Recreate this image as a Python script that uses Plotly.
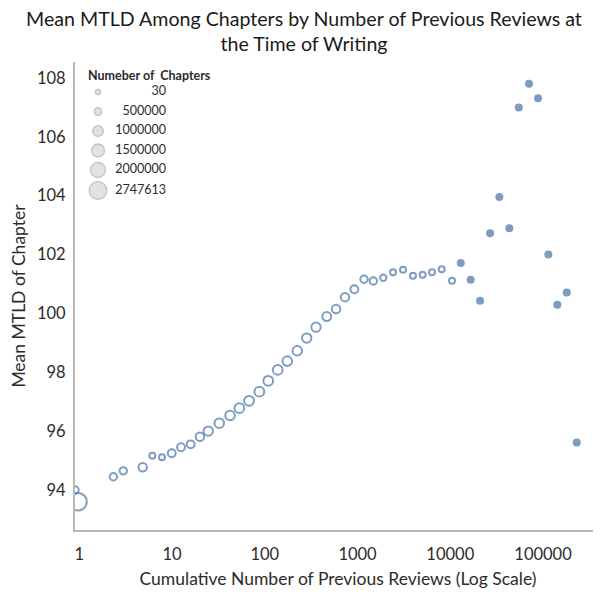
import plotly.graph_objects as go

# ---- data ----
reviews = [0.9, 0.97, 2.33, 2.98, 4.83, 6.14, 7.80, 9.93, 12.5, 15.9, 20.0, 24.6,
           32.3, 42.2, 53.2, 67.7, 87.4, 109, 138, 175, 224, 283, 357, 466, 587,
           733, 924, 1175, 1480, 1897, 2414, 3096, 3966, 5043, 6353, 8090, 10450,
           12970, 16600, 20940, 26850, 33810, 43330, 54740, 70630, 88310, 114100,
           142600, 180300, 230800]
mean_mtld = [94.0, 93.6, 94.45, 94.65, 94.77, 95.16, 95.11, 95.25, 95.45, 95.55, 95.81, 96.0,
             96.27, 96.53, 96.78, 97.03, 97.34, 97.71, 98.08, 98.38, 98.73, 99.16, 99.53,
             99.89, 100.15, 100.55, 100.82, 101.16, 101.10, 101.21, 101.40, 101.48, 101.28,
             101.31, 101.40, 101.50, 101.11, 101.71, 101.14, 100.43, 102.72, 103.95, 102.89,
             106.99, 107.80, 107.31, 102.0, 100.29, 100.71, 95.61]
chapters = [493000, 2747613, 493000, 493000, 639000, 309000, 309000, 564000, 564000, 564000,
            639000, 790000, 812000, 830000, 845000, 858000, 861000, 850000, 842000, 826000,
            805000, 790000, 780000, 720000, 639000, 639000, 564000, 493000, 493000, 365000,
            309000, 309000, 168000, 168000, 130000, 97000, 97000, 62000, 48000, 35000,
            26000, 18000, 12000, 7500, 4200, 2100, 900, 350, 120, 30]

legend_counts = [30, 500000, 1000000, 1500000, 2000000, 2747613]
legend_labels = ["30", "500000", "1000000", "1500000", "2000000", "2747613"]
legend_title = "Numeber of  Chapters"

x_ticks = [1, 10, 100, 1000, 10000, 100000]
x_tick_labels = ["1", "10", "100", "1000", "10000", "100000"]
y_ticks = [94, 96, 98, 100, 102, 104, 106, 108]

title_text = "Mean MTLD Among Chapters by Number of Previous Reviews at<br>the Time of Writing"
x_title = "Cumulative Number of Previous Reviews (Log Scale)"
y_title = "Mean MTLD of Chapter"

# ---- styling ----
FONT = "Lato, 'Open Sans', sans-serif"
BLUE = "#4673a6"
TXT = "#2b2b2b"
MAX_D = 17.5
sizeref = 2 * max(legend_counts) / (MAX_D ** 2)
# very small bubbles render as solid dots (as in the reference)
symbols = ["circle" if c < 70000 else "circle-open" for c in chapters]

fig = go.Figure()

fig.add_trace(go.Scatter(
    x=reviews, y=mean_mtld, mode="markers",
    marker=dict(symbol=symbols, color=BLUE, size=chapters, sizemode="area",
                sizeref=sizeref, sizemin=3, line=dict(width=2, color=BLUE)),
    showlegend=False, hoverinfo="x+y",
))

# size legend drawn on an overlay axis measured in pixels of the plot area
PLOT_W, PLOT_H = 526, 468
leg_y = [438, 418.5, 399, 379.5, 360, 339.5]
fig.add_trace(go.Scatter(
    x=[23] * len(legend_counts), y=leg_y, mode="markers",
    marker=dict(symbol="circle", color="#d6d6d6", size=legend_counts, sizemode="area",
                sizeref=sizeref, sizemin=2.5, line=dict(width=1.4, color="#acacac")),
    xaxis="x2", yaxis="y2", showlegend=False, hoverinfo="skip",
))
fig.add_trace(go.Scatter(
    x=[91] * len(legend_counts), y=leg_y, mode="text", text=legend_labels,
    textposition="middle left", textfont=dict(family=FONT, size=12.5, color=TXT),
    xaxis="x2", yaxis="y2", showlegend=False, hoverinfo="skip",
))
fig.add_annotation(
    x=11, y=455, xref="x2", yref="y2", text="<b>" + legend_title + "</b>",
    showarrow=False, xanchor="left", yanchor="middle",
    font=dict(family=FONT, size=12.5, color=TXT),
)

fig.update_layout(
    width=601, height=595,
    margin=dict(l=67, r=8, t=54, b=73),
    paper_bgcolor="white", plot_bgcolor="white",
    title=dict(text=title_text, x=0.4925, xanchor="center", y=0.9700, yanchor="middle",
               yref="container", font=dict(family=FONT, size=19.6, color="#1a1a1a")),
    font=dict(family=FONT, color=TXT),
    xaxis=dict(
        type="log", range=[-0.046, 5.625], tickmode="array", tickvals=x_ticks,
        ticktext=x_tick_labels, showgrid=False, zeroline=False, showline=True,
        linecolor="#b8b8b8", linewidth=2, ticks="outside", ticklen=8,
        tickcolor="rgba(0,0,0,0)", tickfont=dict(family=FONT, size=16.5, color=TXT),
        automargin=False,
        title=dict(text=x_title, font=dict(family=FONT, size=17.5, color=TXT),
                   standoff=10),
    ),
    yaxis=dict(
        range=[92.64, 108.54], tickmode="array", tickvals=y_ticks,
        showgrid=False, zeroline=False, showline=True, linecolor="#b8b8b8", linewidth=2,
        ticks="outside", ticklen=4, tickcolor="rgba(0,0,0,0)",
        tickfont=dict(family=FONT, size=16.5, color=TXT), automargin=False,
        title=dict(text=y_title, font=dict(family=FONT, size=17.5, color=TXT),
                   standoff=8),
    ),
    xaxis2=dict(range=[0, PLOT_W], visible=False, anchor="y2", overlaying="x",
                fixedrange=True),
    yaxis2=dict(range=[0, PLOT_H], visible=False, anchor="x2", overlaying="y",
                fixedrange=True),
)

fig.write_html("out.html")
